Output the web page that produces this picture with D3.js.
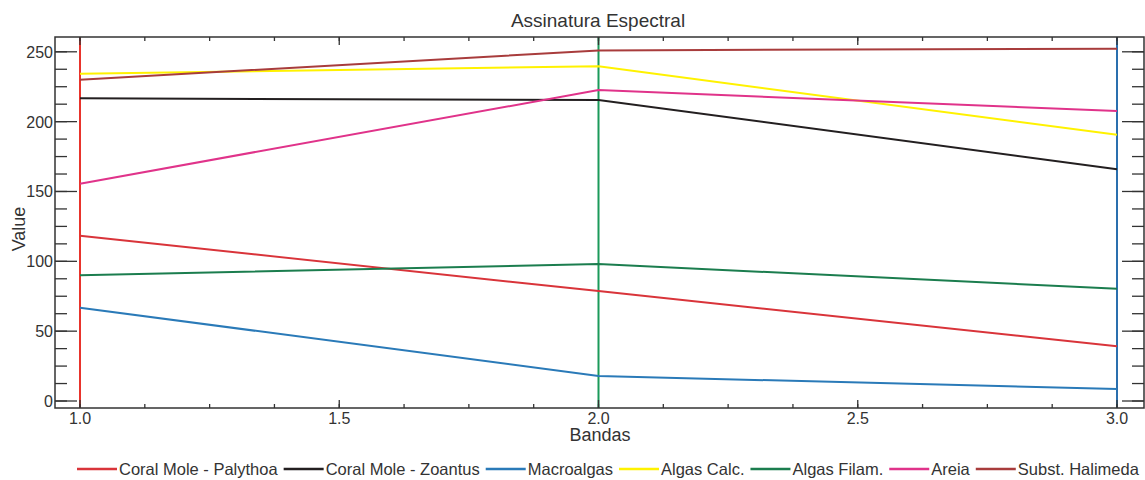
<!DOCTYPE html>
<html>
<head>
<meta charset="utf-8">
<script src="https://cdn.jsdelivr.net/npm/d3@7"></script>
<style>
  body { margin: 0; background: #fff; }
  text { font-family: "Liberation Sans", Arial, sans-serif; fill: #333; }
</style>
</head>
<body>
<div id="chart-area"></div>
<script>
/* Assinatura Espectral - line chart */

// data
const bands = [1, 2, 3]
const seriesNames = ["Coral Mole - Palythoa", "Coral Mole - Zoantus", "Macroalgas",
                     "Algas Calc.", "Algas Filam.", "Areia", "Subst. Halimeda"]
const palythoa = [118.3, 78.7, 39.2]
const zoantus = [216.7, 215.5, 165.9]
const macroalgas = [66.8, 17.9, 8.6]
const algasCalc = [234.3, 239.6, 190.6]
const algasFilam = [90.0, 98.0, 80.4]
const areia = [155.6, 222.6, 207.6]
const halimeda = [230.0, 251.0, 252.2]
const yTicks = [0, 50, 100, 150, 200, 250]
const xTicks = [1.0, 1.5, 2.0, 2.5, 3.0]

const colors = ["#d9343a", "#231f20", "#2a7ab8", "#fff200", "#1b7d4e", "#e0338a", "#a83c3c"]
const bandColors = ["#e8342c", "#1b9a5a", "#2a6fae"]
const allSeries = [palythoa, zoantus, macroalgas, algasCalc, algasFilam, areia, halimeda]

const W = 1145, H = 480
const PLOT = { LEFT: 55, RIGHT: 1144, TOP: 37, BOTTOM: 408 }

const svg = d3.select("#chart-area").append("svg")
    .attr("width", W)
    .attr("height", H)

// scales
const x = d3.scaleLinear()
    .domain([1, 3])
    .range([80, 1117])
const y = d3.scaleLinear()
    .domain([0, 250])
    .range([401, 51.8])

// vertical band markers
svg.selectAll(".band")
    .data(bands)
    .enter().append("line")
    .attr("x1", d => x(d)).attr("x2", d => x(d))
    .attr("y1", PLOT.TOP).attr("y2", PLOT.BOTTOM)
    .attr("stroke", (d, i) => bandColors[i])
    .attr("stroke-width", 2)

// series lines
const line = d3.line()
    .x((d, i) => x(bands[i]))
    .y(d => y(d))

svg.selectAll(".series")
    .data(allSeries)
    .enter().append("path")
    .attr("d", line)
    .attr("fill", "none")
    .attr("stroke", (d, i) => colors[i])
    .attr("stroke-width", 2)

// frame
svg.append("rect")
    .attr("x", PLOT.LEFT).attr("y", PLOT.TOP)
    .attr("width", PLOT.RIGHT - PLOT.LEFT)
    .attr("height", PLOT.BOTTOM - PLOT.TOP)
    .attr("fill", "none")
    .attr("stroke", "#333")
    .attr("stroke-width", 1.5)

// minor tick values
const xMinor = d3.range(1, 3.0001, 0.125)
const yMinor = d3.range(0, 250.0001, 12.5)

function drawTicks(vals, isX, len) {
    vals.forEach(v => {
        if (isX) {
            svg.append("line").attr("x1", x(v)).attr("x2", x(v))
                .attr("y1", PLOT.BOTTOM).attr("y2", PLOT.BOTTOM - len)
                .attr("stroke", "#333").attr("stroke-width", 1.3)
            svg.append("line").attr("x1", x(v)).attr("x2", x(v))
                .attr("y1", PLOT.TOP).attr("y2", PLOT.TOP + len)
                .attr("stroke", "#333").attr("stroke-width", 1.3)
        } else {
            svg.append("line").attr("y1", y(v)).attr("y2", y(v))
                .attr("x1", PLOT.LEFT).attr("x2", PLOT.LEFT + len)
                .attr("stroke", "#333").attr("stroke-width", 1.3)
            svg.append("line").attr("y1", y(v)).attr("y2", y(v))
                .attr("x1", PLOT.RIGHT).attr("x2", PLOT.RIGHT - len)
                .attr("stroke", "#333").attr("stroke-width", 1.3)
        }
    })
}
drawTicks(xMinor, true, 4)
drawTicks(xTicks, true, 8)
drawTicks(yMinor, false, 12)
drawTicks(yTicks, false, 22)

// tick labels
svg.selectAll(".xlab")
    .data(xTicks)
    .enter().append("text")
    .attr("x", d => x(d)).attr("y", 424)
    .attr("text-anchor", "middle")
    .style("font-size", "16px")
    .text(d => d.toFixed(1))

svg.selectAll(".ylab")
    .data(yTicks)
    .enter().append("text")
    .attr("x", 53).attr("y", d => y(d) + 6)
    .attr("text-anchor", "end")
    .style("font-size", "16px")
    .text(d => d)

// titles
svg.append("text")
    .attr("x", 598).attr("y", 27)
    .attr("text-anchor", "middle")
    .style("font-size", "19px")
    .text("Assinatura Espectral")

svg.append("text")
    .attr("x", 600).attr("y", 441)
    .attr("text-anchor", "middle")
    .style("font-size", "18px")
    .text("Bandas")

svg.append("text")
    .attr("transform", "translate(25,229) rotate(-90)")
    .attr("text-anchor", "middle")
    .style("font-size", "18px")
    .text("Value")

// legend
let lx = 77
const ly = 469
seriesNames.forEach((name, i) => {
    svg.append("line")
        .attr("x1", lx).attr("x2", lx + 40)
        .attr("y1", ly).attr("y2", ly)
        .attr("stroke", colors[i]).attr("stroke-width", 2.5)
    const t = svg.append("text")
        .attr("x", lx + 42).attr("y", ly + 6)
        .style("font-size", "16.5px")
        .text(name)
    lx += 42 + t.node().getComputedTextLength() + 6
})
</script>
</body>
</html>
